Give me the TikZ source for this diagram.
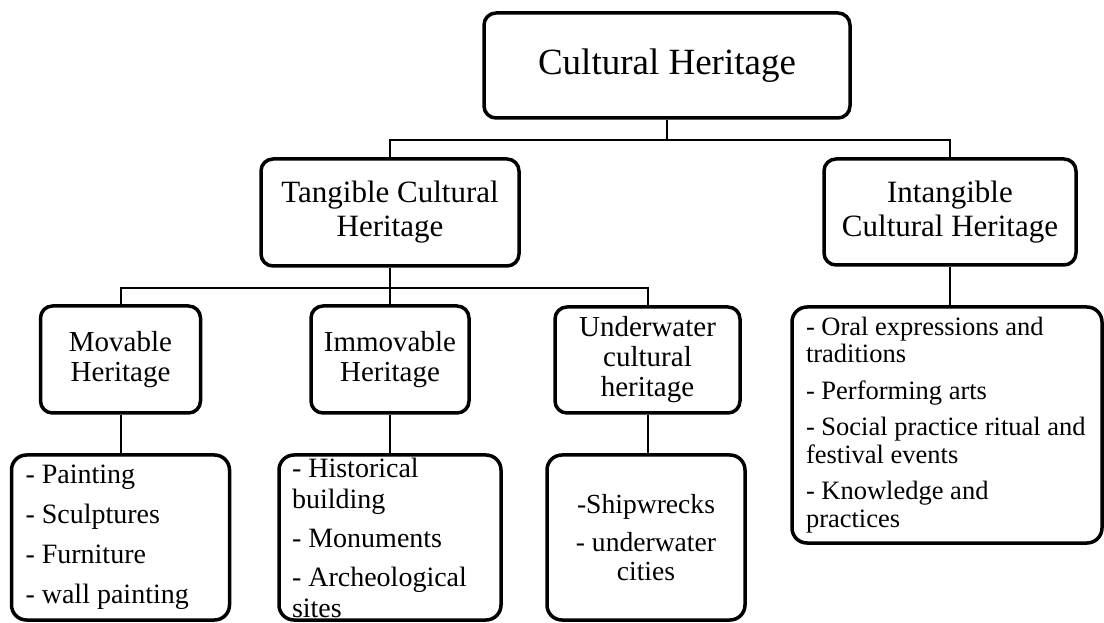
\documentclass[tikz,border=0pt]{standalone}
\usepackage{fontspec}
\setmainfont{Liberation Serif}
\usepackage{tikz}
\definecolor{heritageInk}{RGB}{0,0,0}

\begin{document}
\begin{tikzpicture}[x=1pt,y=1pt,
  box/.style={draw=heritageInk, line width=3.5pt, rounded corners=12pt, align=center, inner sep=2pt},
  listBox/.style={draw=heritageInk, line width=3.5pt, rounded corners=15pt, inner ysep=0pt, minimum height=165pt},
  link/.style={draw=heritageInk, line width=2pt}]
\useasboundingbox (0,0) rectangle (1104,622);

% top
\node[box, minimum width=366pt, minimum height=105pt, font=\fontsize{37}{40}\selectfont] (culturalHeritage) at (667,556.5) {Cultural Heritage};

% second level
\node[box, minimum width=258pt, minimum height=107pt, font=\fontsize{31}{34}\selectfont] (tangibleBox) at (390,409.5) {Tangible Cultural\\Heritage};
\node[box, minimum width=252pt, minimum height=106pt, font=\fontsize{31}{34}\selectfont] (intangibleBox) at (950,410) {Intangible\\Cultural Heritage};

% third level
\node[box, minimum width=160pt, minimum height=107pt, font=\fontsize{29}{30}\selectfont] (movableBox) at (120.5,262.5) {Movable\\Heritage};
\node[box, minimum width=158pt, minimum height=107pt, font=\fontsize{29}{30}\selectfont] (immovableBox) at (390,262.5) {Immovable\\Heritage};
\node[box, minimum width=185pt, minimum height=106pt, font=\fontsize{29}{30}\selectfont] (underwaterBox) at (647.5,262) {Underwater\\cultural\\heritage};

% lists
\node[listBox, align=flush left, text width=190pt, inner xsep=14pt, font=\fontsize{28}{31}\selectfont] (movableList) at (120.5,84.5)
  {- Painting\\[9pt]- Sculptures\\[9pt]- Furniture\\[9pt]- wall painting};
\node[listBox, align=flush left, text width=196pt, inner xsep=13pt, font=\fontsize{28}{31}\selectfont] (immovableList) at (390,84.5)
  {- Historical\\building\\[8pt]- Monuments\\[8pt]- Archeological\\sites};
\node[listBox, align=flush center, text width=178pt, inner xsep=10pt, font=\fontsize{27.6}{29}\selectfont] (underwaterList) at (646,84.5)
  {-Shipwrecks\\[9pt]- underwater\\cities};
\node[listBox, align=flush left, text width=282pt, inner xsep=14pt, minimum height=236pt, font=\fontsize{26.5}{27.5}\selectfont] (intangibleList) at (947,197)
  {- Oral expressions and\\traditions\\[9pt]- Performing arts\\[9pt]- Social practice ritual and\\festival events\\[9pt]- Knowledge and\\practices};

% connectors
\draw[link] (culturalHeritage.south) -- ++(0,-20) coordinate (topBus);
\draw[link] (tangibleBox.north) |- (topBus) -| (intangibleBox.north);
\draw[link] (tangibleBox.south) -- ++(0,-20) coordinate (midBus);
\draw[link] (movableBox.north) |- (midBus) -| (underwaterBox.north);
\draw[link] (midBus) -- (immovableBox.north);
\draw[link] (movableBox.south) -- (movableList.north);
\draw[link] (immovableBox.south) -- (immovableList.north);
\draw[link] (underwaterBox.south) -- (underwaterBox.south |- underwaterList.north);
\draw[link] (intangibleBox.south) -- (intangibleBox.south |- intangibleList.north);
\end{tikzpicture}
\end{document}
